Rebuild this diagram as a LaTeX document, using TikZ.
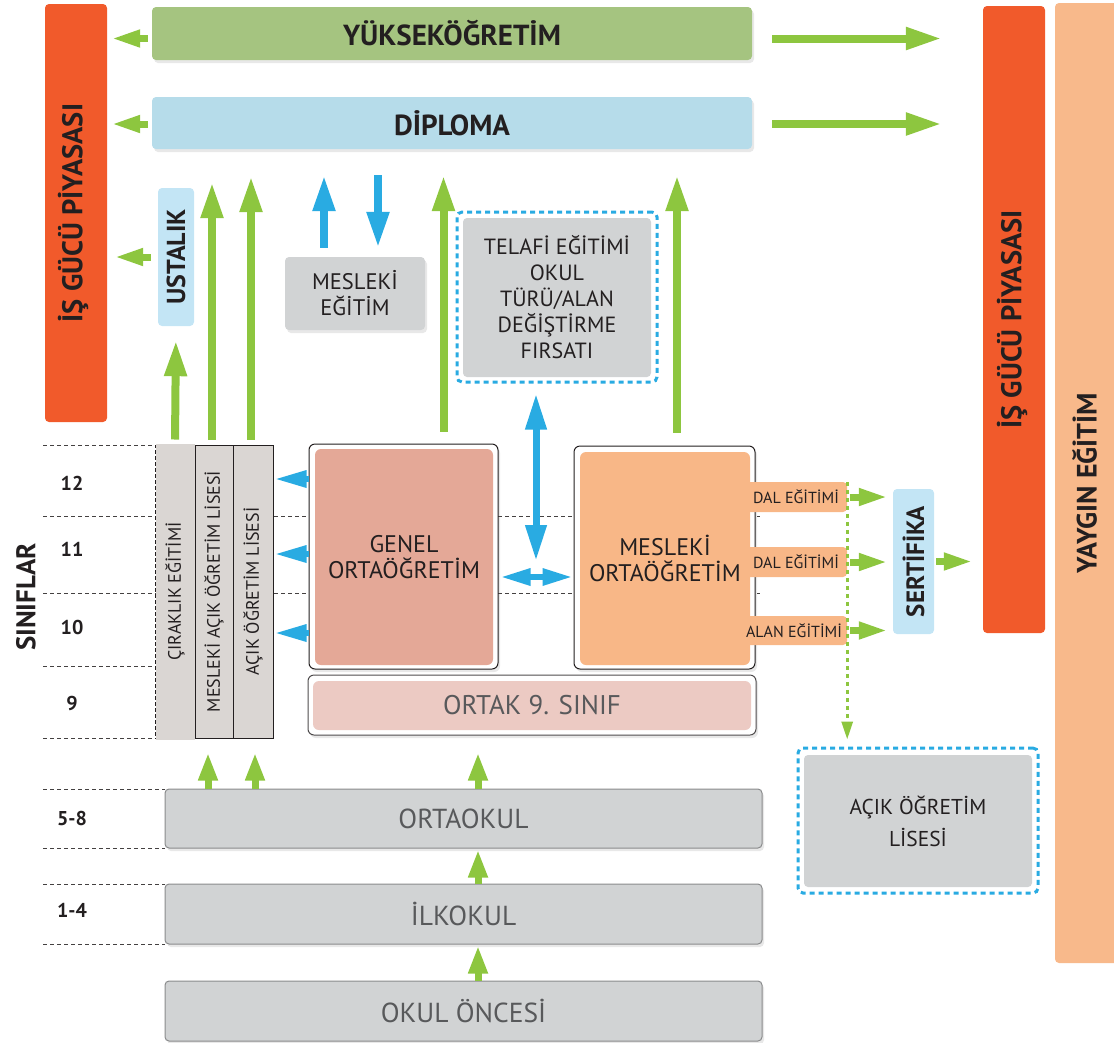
\documentclass[tikz,border=0pt]{standalone}
\usepackage{fontspec}
\setmainfont{PT Sans}
\usetikzlibrary{arrows.meta,shadows,calc}
\definecolor{ored}{HTML}{F15A2B}
\definecolor{yayc}{HTML}{F8B98B}
\definecolor{gbox}{HTML}{A5C480}
\definecolor{dbox}{HTML}{B6DCEA}
\definecolor{lbox}{HTML}{C3E5F5}
\definecolor{gry}{HTML}{D1D3D4}
\definecolor{colf}{HTML}{DAD6D3}
\definecolor{genf}{HTML}{E4A897}
\definecolor{mesf}{HTML}{F8B787}
\definecolor{ortf}{HTML}{ECCAC3}
\definecolor{agreen}{HTML}{8DC63F}
\definecolor{ablue}{HTML}{29ABE2}
\definecolor{txt}{HTML}{231F20}
\definecolor{gtxt}{HTML}{58595B}
\newcommand\fsz[2]{\fontsize{#1}{#2}\selectfont}
\newcommand\mybox[7]{\node[#6, minimum width={(#4)-(#2)}, minimum height={(#5)-(#3)}, inner sep=0pt] (#1) at ({((#2)+(#4))/2},{((#3)+(#5))/2}) {#7};}
\begin{document}
\begin{tikzpicture}[x=1pt,y=-1pt,
  bx/.style={rounded corners=4pt},
  shd/.style={drop shadow={opacity=0.18,shadow xshift=2pt,shadow yshift=-3pt}},
  gridl/.style={draw=txt!85,line width=0.9pt,dash pattern=on 4pt off 3pt},
  ga/.style={draw=agreen,line width=8pt,-{Triangle[length=36pt,width=21pt]}},
  gs/.style={draw=agreen,line width=7pt,-{Triangle[length=29pt,width=16pt]}},
  gb/.style={draw=agreen,line width=7pt,-{Triangle[length=28pt,width=18pt]}},
  ba/.style={draw=ablue,line width=8pt,-{Triangle[length=36pt,width=21pt]}},
  bs/.style={draw=ablue,line width=6pt,-{Triangle[length=32pt,width=16pt]}},
  bvd/.style={draw=ablue,line width=7pt,{Triangle[length=36pt,width=20pt]}-{Triangle[length=36pt,width=20pt]}},
  bhd/.style={draw=ablue,line width=6pt,{Triangle[length=30pt,width=16pt]}-{Triangle[length=30pt,width=16pt]}},
  gdot/.style={draw=agreen,line width=3pt,dash pattern=on 4pt off 4pt,-{Triangle[length=18pt,width=11pt]}},
  bdash/.style={draw=ablue,line width=3pt,dash pattern=on 5pt off 4pt,rounded corners=5pt},
  vt/.style={rotate=90,text=txt},
  gl/.style={text=txt,font=\bfseries\fsz{20}{22}}
]
\useasboundingbox (0,0) rectangle (1114,1042);

% grid lines
\foreach \yy/\xe in {445/155,516/760,593/760,666/155,738/155,789/165,848/165,884/165,944/165}
  \draw[gridl] (43,\yy) -- (\xe,\yy);

% side bars
\mybox{isl}{45}{4}{107}{422}{bx,fill=ored}{}
\node[vt,font=\bfseries\fsz{28.5}{30}] (islt) at ([xshift=-3pt]isl.center) {İŞ GÜCÜ PİYASASI};
\mybox{isr}{983}{6}{1045}{633}{bx,fill=ored}{}
\node[vt,font=\bfseries\fsz{28.5}{30}] (isrt) at ([xshift=-2pt]isr.center) {İŞ GÜCÜ PİYASASI};
\mybox{yay}{1055}{3}{1124}{963}{bx,fill=yayc}{}
\node[vt,font=\bfseries\fsz{28}{30}] (yayt) at ([xshift=-5pt]yay.center) {YAYGIN EĞİTİM};

% top boxes
\mybox{yuk}{152}{7}{752}{60}{bx,fill=gbox,shd,text=txt,font=\bfseries\fsz{29}{31}}{YÜKSEKÖĞRETİM}
\mybox{dip}{152}{97}{752}{149}{bx,fill=dbox,shd,text=txt,font=\bfseries\fsz{29}{31}}{DİPLOMA}

\mybox{ust}{158}{188}{194}{326}{bx,fill=lbox}{}
\node[vt,font=\bfseries\fsz{26}{28}] (ustt) at (ust) {USTALIK};

\mybox{mes}{285}{257}{425}{330}{bx,fill=gry,shd,text=txt,align=center,font=\fsz{22.5}{26}}{MESLEKİ\\EĞİTİM}

\mybox{tel}{457}{212}{657}{382}{bdash}{}
\mybox{telin}{463}{218}{651}{377}{bx,fill=gry,text=txt,align=center,font=\fsz{22}{26}}{TELAFİ EĞİTİMİ\\OKUL\\TÜRÜ/ALAN\\DEĞİŞTİRME\\FIRSATI}

% columns
\mybox{mac}{195}{445}{233}{738}{fill=colf,draw=txt,line width=1pt}{}
\mybox{acik}{233}{445}{273}{738}{fill=colf,draw=txt,line width=1pt}{}
\draw[colf,line width=1.6pt] ([yshift=-1pt]mac.north west) -- ([yshift=1pt]mac.south west);
\mybox{cir}{155}{445}{195}{738}{draw=txt,line width=1pt,dash pattern=on 4pt off 2pt}{}
\fill[colf] ([shift={(1,-1)}]cir.north west) rectangle ([shift={(-1,1)}]cir.south east);
\node[vt,font=\fsz{18}{20}] (cirt) at (cir) {ÇIRAKLIK EĞİTİMİ};
\node[vt,font=\fsz{18}{20}] (mact) at (mac) {MESLEKİ AÇIK ÖĞRETİM LİSESİ};
\node[vt,font=\fsz{18}{20}] (acikt) at (acik) {AÇIK ÖĞRETİM LİSESİ};

% grade labels
\node[gl] (g12) at (72,483) {12};
\node[gl] (g11) at (72,549) {11};
\node[gl] (g10) at (72,627) {10};
\node[gl] (g9) at (72,703) {9};
\node[gl] (g58) at (72,818) {5-8};
\node[gl] (g14) at (72,910) {1-4};
\node[vt,font=\bfseries\fsz{27}{29}] (sinif) at (26,597) {SINIFLAR};

% secondary boxes
\mybox{gen}{309}{444}{498}{669}{rounded corners=6pt,draw=txt,line width=1pt,fill=white,shd}{}
\mybox{genin}{315}{449}{493}{665}{rounded corners=6pt,fill=genf,text=txt,align=center,font=\fsz{24}{25.5}}{GENEL\\ORTAÖĞRETİM}
\mybox{mo}{574}{446}{755}{669}{rounded corners=6pt,draw=txt,line width=1pt,fill=white,shd}{}
\mybox{moin}{580}{452}{750}{665}{rounded corners=6pt,fill=mesf,text=txt,align=center,font=\fsz{24}{25.5}}{MESLEKİ\\ORTAÖĞRETİM}
\mybox{ortak}{308}{675}{756}{735}{rounded corners=6pt,draw=txt!80,line width=1pt,fill=white,shd}{}
\mybox{ortakin}{313}{681}{751}{730}{rounded corners=6pt,fill=ortf,text=gtxt,font=\fsz{27}{29}}{ORTAK 9. SINIF}

% tags
\mybox{tag1}{745}{482}{847}{512}{rounded corners=4pt,fill=mesf,text=txt,font=\fsz{16}{18}}{DAL EĞİTİMİ}
\mybox{tag2}{745}{547}{847}{577}{rounded corners=4pt,fill=mesf,text=txt,font=\fsz{16}{18}}{DAL EĞİTİMİ}
\mybox{tag3}{741}{616}{847}{645}{rounded corners=4pt,fill=mesf,text=txt,font=\fsz{16}{18}}{ALAN EĞİTİMİ}

\mybox{sert}{893}{489}{934}{634}{bx,fill=lbox}{}
\node[vt,font=\bfseries\fsz{25}{27}] (sertt) at (sert) {SERTİFİKA};

\mybox{aol}{798}{748}{1038}{893}{bdash}{}
\mybox{aolin}{804}{755}{1032}{887}{bx,fill=gry,text=txt,align=center,font=\fsz{21.5}{32}}{AÇIK ÖĞRETİM\\LİSESİ}

% bottom boxes
\mybox{ort}{165}{789}{762}{848}{rounded corners=4pt,fill=gry,draw=gtxt!70,line width=1pt,shd,text=gtxt,font=\fsz{27.5}{29}}{ORTAOKUL}
\mybox{ilk}{165}{884}{762}{944}{rounded corners=4pt,fill=gry,draw=gtxt!70,line width=1pt,shd,text=gtxt,font=\fsz{27.5}{29}}{İLKOKUL}
\mybox{oon}{165}{981}{762}{1041}{rounded corners=4pt,fill=gry,draw=gtxt!70,line width=1pt,shd,text=gtxt,font=\fsz{27.5}{29}}{OKUL ÖNCESİ}

% ---- connectors ----
\coordinate (ya) at ($(yuk.west)+(0,5)$);
\coordinate (yb) at ($(yuk.east)+(0,5)$);
\coordinate (da) at ($(dip.west)+(0,1)$);
\coordinate (db) at ($(dip.east)+(0,1)$);
\draw[gs,shorten <=4pt,shorten >=4pt] (ya) -- (isl.east |- ya);
\draw[gs,shorten <=4pt,shorten >=4pt] (da) -- (isl.east |- da);
\draw[ga,shorten <=20pt,shorten >=41pt] (yb) -- (isr.west |- yb);
\draw[ga,shorten <=20pt,shorten >=41pt] (db) -- (isr.west |- db);
\draw[gs,shorten <=7pt,shorten >=7pt] (ust.west) -- (isl.east |- ust.west);

\draw[ga,shorten <=5pt,shorten >=14pt] (cir.north) -- (ust.south);
\coordinate (m1) at ($(mac.north)+(-2,0)$);
\coordinate (a1) at ($(acik.north)+(-2,0)$);
\draw[ga,shorten <=5pt,shorten >=33pt] (m1) -- (m1 |- dip.south);
\draw[ga,shorten <=5pt,shorten >=27pt] (a1) -- (a1 |- dip.south);

\coordinate (bu) at ($(mes.north)+(-31,0)$);
\coordinate (bd) at ($(mes.north)+(23,0)$);
\draw[ba,shorten <=9pt,shorten >=26pt] (bu) -- (bu |- dip.south);
\draw[ba,shorten <=26pt,shorten >=9pt] (bd |- dip.south) -- (bd);

\coordinate (g1) at ($(gen.north)+(40,0)$);
\coordinate (g2) at ($(mo.north)+(12.5,0)$);
\draw[ga,shorten <=12pt,shorten >=26pt] (g1) -- (g1 |- dip.south);
\draw[ga,shorten <=13pt,shorten >=26pt] (g2) -- (g2 |- dip.south);

\coordinate (hm) at (536,577);
\coordinate (vt) at (536,561);
\draw[bhd,shorten <=2pt,shorten >=1pt] (gen.east |- hm) -- (mo.west |- hm);
\draw[bvd,shorten <=10pt] (vt |- tel.south) -- (vt);

\foreach \yy [count=\i] in {479,554,633}{
  \coordinate (lb\i) at (0,\yy);
  \draw[bs,shorten >=1pt] (gen.west |- lb\i) -- (acik.east |- lb\i);
}

\draw[gs,shorten <=3pt,shorten >=5pt] (tag1.east) -- (sert.west |- tag1.east);
\draw[gs,shorten <=3pt,shorten >=5pt] (tag2.east) -- (sert.west |- tag2.east);
\draw[gs,shorten <=3pt,shorten >=5pt] (tag3.east) -- (sert.west |- tag3.east);
\draw[gs,shorten <=2pt,shorten >=10pt] (sert.east) -- (isr.west |- sert.east);
\draw[gdot,shorten >=7pt] (tag1.north east) -- (aol.north -| tag1.east);

\coordinate (c1) at (208,0);
\coordinate (c2) at (255,0);
\coordinate (c3) at (478,0);
\draw[gb,shorten >=14pt] (c1 |- ort.north) -- (c1 |- cir.south);
\draw[gb,shorten >=14pt] (c2 |- ort.north) -- (c2 |- cir.south);
\draw[gb,shorten >=17pt] (c3 |- ort.north) -- (c3 |- ortak.south);
\draw[gb,shorten >=1pt] (c3 |- ilk.north) -- (c3 |- ort.south);
\draw[gb,shorten >=1pt] (c3 |- oon.north) -- (c3 |- ilk.south);
\end{tikzpicture}
\end{document}
